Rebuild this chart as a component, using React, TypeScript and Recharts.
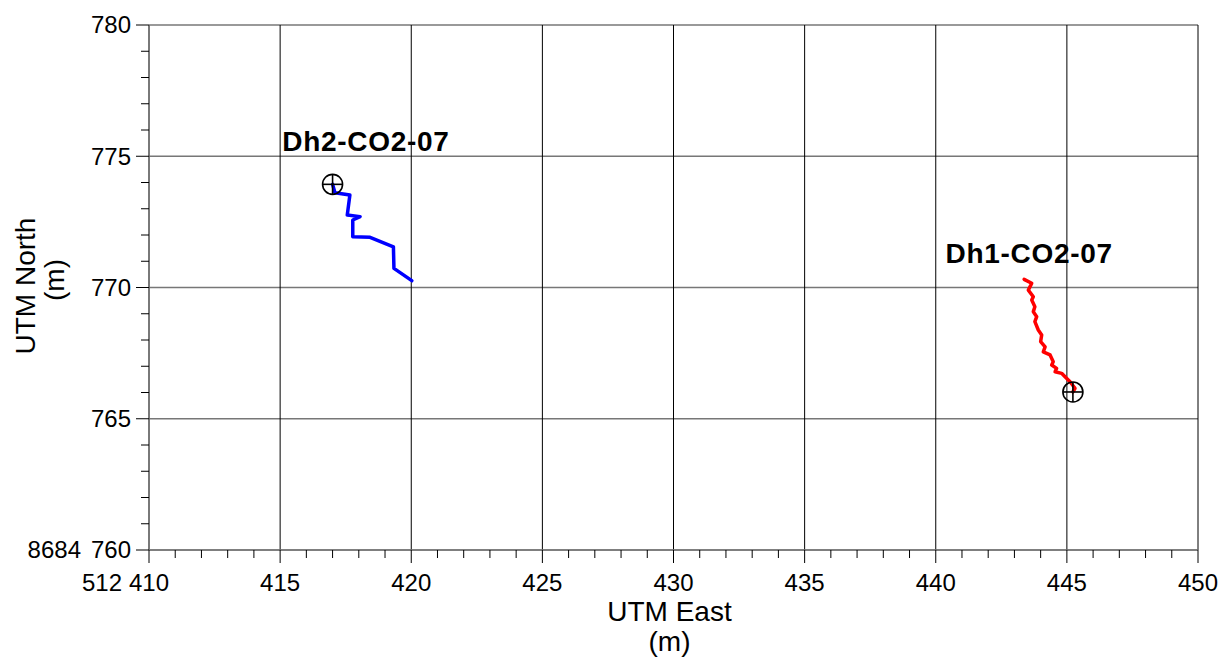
import React from "react";
import {
  ComposedChart,
  Line,
  Scatter,
  XAxis,
  YAxis,
  ReferenceLine,
  Label,
} from "recharts";

// borehole traces (UTM East / North, offset from 512000 / 8684000)
const dh2East = [417.0, 417.09, 417.66, 417.56, 418.05, 417.77, 417.77, 418.43, 419.32, 419.34, 420.02];
const dh2North = [773.93, 773.61, 773.52, 772.76, 772.7, 772.57, 771.93, 771.91, 771.55, 770.73, 770.26];

const dh1East = [
  443.37, 443.66, 443.53, 443.72, 443.66, 443.78, 443.72, 443.85, 443.78, 443.91, 444.04, 444.0,
  444.17, 444.1, 444.36, 444.48, 444.42, 444.61, 444.55, 444.8, 444.93, 445.12, 445.31, 445.23,
];
const dh1North = [
  770.31, 770.16, 769.9, 769.65, 769.52, 769.27, 769.08, 768.89, 768.7, 768.38, 768.19, 767.94,
  767.74, 767.55, 767.43, 767.17, 767.05, 766.92, 766.79, 766.73, 766.6, 766.41, 766.16, 766.02,
];

const wellNames = ["Dh2-CO2-07", "Dh1-CO2-07"];
const collarEast = [417.0, 445.23];
const collarNorth = [773.93, 766.02];
const labelEast = [418.27, 443.56];
const labelNorth = [775.2, 770.93];

const xMajor = [410, 415, 420, 425, 430, 435, 440, 445, 450];
const yMajor = [760, 765, 770, 775, 780];
const xTicks = Array.from({ length: 41 }, (_, i) => 410 + i);
const yTicks = Array.from({ length: 21 }, (_, i) => 760 + i);

const FONT = "Arial, 'Liberation Sans', sans-serif";

const toPts = (east: number[], north: number[]) =>
  east.map((e, i) => ({ east: e, north: north[i] }));

const dh2Data = toPts(dh2East, dh2North);
const dh1Data = toPts(dh1East, dh1North);
const collars = collarEast.map((e, i) => ({ east: e, north: collarNorth[i] }));
const labels = labelEast.map((e, i) => ({ east: e, north: labelNorth[i], name: wellNames[i] }));

const XTick = (props: any) => {
  const { x, y, payload } = props;
  const v = payload.value;
  const major = v % 5 === 0;
  return (
    <g>
      <line x1={x} x2={x} y1={y} y2={y + (major ? 13 : 8)} stroke="#000" strokeWidth={1} />
      {major && (
        <text x={x} y={y + 41} textAnchor="middle" fontSize={24} fontFamily={FONT} fill="#000">
          {v}
        </text>
      )}
      {v === 410 && (
        <text x={x - 47} y={y + 41} textAnchor="middle" fontSize={24} fontFamily={FONT} fill="#000">
          512
        </text>
      )}
    </g>
  );
};

const YTick = (props: any) => {
  const { x, y, payload } = props;
  const v = payload.value;
  const major = v % 5 === 0;
  return (
    <g>
      <line x1={x - (major ? 13 : 8)} x2={x} y1={y} y2={y} stroke="#000" strokeWidth={1} />
      {major && (
        <text x={x - 18} y={y} dy="0.35em" textAnchor="end" fontSize={24} fontFamily={FONT} fill="#000">
          {v}
        </text>
      )}
      {v === 760 && (
        <text x={x - 68} y={y} dy="0.35em" textAnchor="end" fontSize={24} fontFamily={FONT} fill="#000">
          8684
        </text>
      )}
    </g>
  );
};

const CollarMark = (props: any) => {
  const { cx, cy } = props;
  return (
    <g>
      <circle cx={cx} cy={cy} r={10} fill="none" stroke="#000" strokeWidth={1.6} />
      <line x1={cx - 10} x2={cx + 10} y1={cy} y2={cy} stroke="#000" strokeWidth={1.6} />
      <line x1={cx} x2={cx} y1={cy - 10} y2={cy + 10} stroke="#000" strokeWidth={1.6} />
    </g>
  );
};

const WellLabel = (props: any) => {
  const { cx, cy, payload } = props;
  return (
    <text x={cx} y={cy} textAnchor="middle" fontSize={28} fontWeight="bold" fontFamily={FONT} fill="#000" letterSpacing={0.7}>
      {payload.name}
    </text>
  );
};

const XLabel = (props: any) => {
  const { viewBox } = props;
  const cx = viewBox.x + viewBox.width / 2 - 4;
  return (
    <g fontFamily={FONT} fontSize={28} fill="#000">
      <text x={cx} y={621} textAnchor="middle">UTM East</text>
      <text x={cx} y={651} textAnchor="middle">(m)</text>
    </g>
  );
};

const YLabel = () => (
  <g fontFamily={FONT} fontSize={28} fill="#000">
    <text x={35} y={286} textAnchor="middle" transform="rotate(-90, 35, 286)">UTM North</text>
    <text x={64} y={280} textAnchor="middle" transform="rotate(-90, 64, 280)">(m)</text>
  </g>
);

export default function App() {
  return (
    <div style={{ position: "absolute", left: 0, top: 0, background: "#fff" }}>
      <ComposedChart width={1220} height={657} margin={{ top: 25, right: 22, bottom: 0, left: 0 }}>
        <XAxis
          type="number"
          dataKey="east"
          domain={[410, 450]}
          ticks={xTicks}
          interval={0}
          tick={<XTick />}
          tickLine={false}
          tickSize={0}
          tickMargin={0}
          axisLine={{ stroke: "#777", strokeWidth: 1.5 }}
          height={107}
          allowDataOverflow
        >
          <Label content={<XLabel />} />
        </XAxis>
        <YAxis
          type="number"
          dataKey="north"
          domain={[760, 780]}
          ticks={yTicks}
          interval={0}
          tick={<YTick />}
          tickLine={false}
          tickSize={0}
          tickMargin={0}
          axisLine={{ stroke: "#777", strokeWidth: 1.5 }}
          width={149}
          allowDataOverflow
        >
          <Label content={<YLabel />} />
        </YAxis>
        {yMajor.map((v) => (
          <ReferenceLine key={"h" + v} y={v} stroke="#777" strokeWidth={1.5} />
        ))}
        {xMajor.map((v) => (
          <ReferenceLine key={"v" + v} x={v} stroke="#000" strokeWidth={1} />
        ))}
        <Line
          data={dh2Data}
          dataKey="north"
          type="linear"
          stroke="#0000ff"
          strokeWidth={3.5}
          strokeLinejoin="round"
          strokeLinecap="round"
          dot={false}
          activeDot={false}
          isAnimationActive={false}
        />
        <Line
          data={dh1Data}
          dataKey="north"
          type="linear"
          stroke="#ff0000"
          strokeWidth={3.5}
          strokeLinejoin="round"
          strokeLinecap="round"
          dot={false}
          activeDot={false}
          isAnimationActive={false}
        />
        <Scatter data={collars} dataKey="north" shape={<CollarMark />} isAnimationActive={false} />
        <Scatter data={labels} dataKey="north" shape={<WellLabel />} isAnimationActive={false} />
      </ComposedChart>
    </div>
  );
}
